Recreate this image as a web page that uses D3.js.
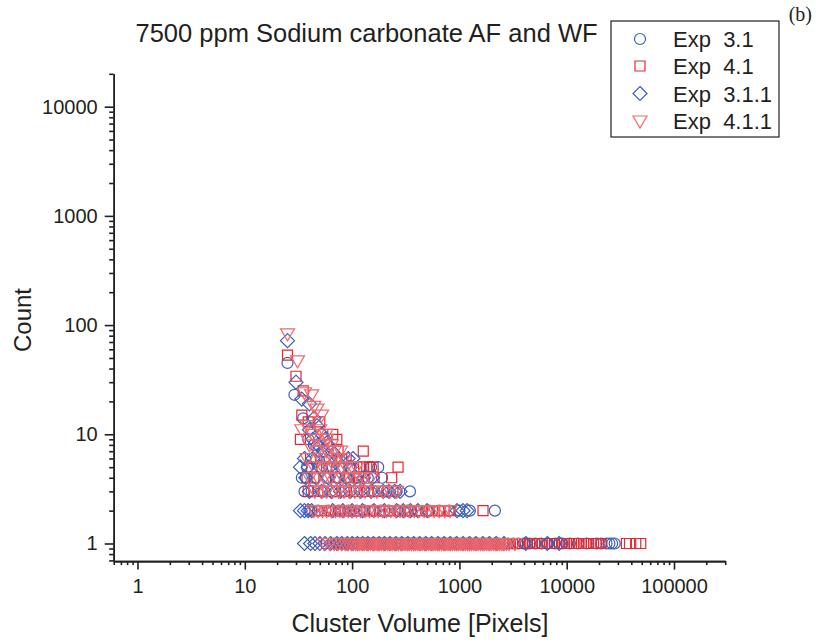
<!DOCTYPE html>
<html>
<head>
<meta charset="utf-8">
<script src="https://cdn.jsdelivr.net/npm/d3@7/dist/d3.min.js"></script>
<style>
  html, body { margin: 0; padding: 0; background: #fff; }
  svg { display: block; }
  text { font-family: "Liberation Sans", Arial, Helvetica, sans-serif; fill: #231f20; }
</style>
</head>
<body>
<svg id="chart" width="816" height="644"></svg>
<script>
// ---- data: cluster volume [pixels] vs. number of clusters with that volume ----
const seriesNames = ["Exp  3.1", "Exp  4.1", "Exp  3.1.1", "Exp  4.1.1"];

// [volume, count] pairs for counts above one
const exp31Multi = [
  [25,45],[29,23],[35,14],[39,9],[44,8],[48,7],[55,7],[46,6],[62,6],[70,6],
  [38,5],[52,5],[66,5],[80,5],[95,5],[120,5],[150,5],[175,5],
  [34,4],[37,4],[45,4],[58,4],[75,4],[90,4],[110,4],[140,4],[190,4],
  [36,3],[42,3],[55,3],[70,3],[85,3],[105,3],[130,3],[160,3],[210,3],[260,3],[346,3],
  [40,2],[48,2],[60,2],[75,2],[92,2],[110,2],[130,2],[155,2],[185,2],[220,2],[270,2],
  [330,2],[410,2],[520,2],[650,2],[800,2],[1000,2],[1250,2],[2140,2]
];
// volumes seen exactly once
const exp31Single = [
  68,75,84,92,100,104,109,113,118,123,129,134,140,147,153,161,168,176,185,194,
  203,214,225,236,249,262,276,291,307,323,341,360,381,403,426,451,478,507,538,571,
  607,646,688,733,782,835,893,956,1024,1100,1183,1275,1380,1495,1625,1770,1935,2120,
  2330,2570,2850,3170,3540,3980,4500,5100,5800,6700,7800,9100,10700,12700,15400,
  19000,21000,23500,25000,26500,28000
];

const exp41Multi = [
  [25,53],[30,34],[35,25],[34,15],[39,13],[50,13],[33,9],[66,10],[72,9],[74,7],[127,7],
  [41,6],[80,6],[88,6],
  [42,5],[58,5],[118,5],[128,5],[137,5],[145,5],[157,5],[268,5],
  [38,4],[44,4],[70,4],[95,4],[115,4],[160,4],[234,4],
  [39,3],[44,3],[48,3],[65,3],[85,3],[110,3],[140,3],[175,3],[240,3],
  [45,2],[52,2],[62,2],[70,2],[78,2],[86,2],[95,2],[105,2],[118,2],[130,2],[145,2],
  [160,2],[180,2],[200,2],[225,2],[250,2],[280,2],[310,2],[350,2],[390,2],[440,2],
  [500,2],[560,2],[640,2],[720,2],[820,2],[1660,2]
];
const exp41Single = [
  58,66,77,88,98,106,115,124,134,145,157,170,184,199,215,233,252,273,295,320,
  346,375,406,440,476,515,558,604,654,708,767,830,899,973,1050,1140,1240,1340,
  1450,1570,1700,1840,1990,2160,2340,2530,2740,2970,3130,3300,3480,3670,3870,4080,
  4300,4530,4780,5040,5310,5600,5900,6220,6560,6910,7290,7680,8100,8540,9000,9490,
  10000,10500,11100,11700,12300,13000,13700,14400,15200,16000,16900,17800,18800,
  19800,20900,36000,38500,44000,49000
];

const exp311Multi = [
  [25,72],[30,30],[34,21],[40,19],[44,14],[47,12],[40,11],[52,10],[43,9],[56,9],
  [48,8],[60,8],[54,7],[65,7],
  [36,6],[43,6],[75,6],[92,6],[102,6],
  [33,5],[39,5],[50,5],[62,5],[78,5],[96,5],
  [37,4],[46,4],[60,4],[72,4],[88,4],[106,4],[128,4],[155,4],
  [40,3],[52,3],[64,3],[78,3],[96,3],[120,3],[150,3],[195,3],[220,3],[250,3],[280,3],
  [33,2],[36,2],[39,2],[42,2],[66,2],[82,2],[100,2],[125,2],[160,2],[200,2],[260,2],
  [300,2],[350,2],[410,2],[500,2],[950,2],[1080,2],[1180,2]
];
const exp311Single = [
  36,41,45,50,56,63,72,80,90,100,112,125,140,158,178,200,225,255,290,330,375,425,
  485,550,630,720,820,940,1080,1240,1420,1650,1900,2200,2600,4160,6600,8500
];

const exp411Multi = [
  [25,83],[31,47],[36,24],[42,23],[44,18],[47,17],[52,15],[38,12],[34,11],[50,11],
  [43,10],[57,10],[46,9],[58,9],[40,8],[55,8],[64,8],[47,7],[58,7],[68,7],[78,7],
  [38,6],[50,6],[57,6],[66,6],[74,6],[84,6],
  [44,5],[53,5],[60,5],[69,5],[80,5],[88,5],[100,5],[110,5],
  [40,4],[48,4],[55,4],[63,4],[72,4],[82,4],[92,4],[104,4],[118,4],[130,4],[150,4],
  [45,3],[52,3],[58,3],[66,3],[75,3],[84,3],[94,3],[106,3],[118,3],[132,3],[150,3],
  [170,3],[195,3],[225,3],[260,3],
  [44,2],[48,2],[53,2],[58,2],[64,2],[70,2],[77,2],[84,2],[92,2],[100,2],[110,2],
  [120,2],[132,2],[145,2],[160,2],[175,2],[192,2],[210,2],[230,2],[255,2],[280,2],
  [310,2],[340,2],[380,2],[420,2],[470,2],[520,2],[580,2],[650,2],[730,2],[820,2]
];
const exp411Single = [
  55,62,68,74,80,86,92,98,103,108,113,118,124,130,136,142,149,156,163,171,179,187,
  196,205,215,225,236,247,259,271,284,297,311,326,341,357,374,392,410,430,450,471,
  494,517,541,567,594,622,651,682,714,748,783,820,859,900,942,987,1034,1083,1134,
  1188,1244,1303,1365,1430,1498,1569,1643,1721,1803,1888,1978,2072,2170,2273,2380,
  2490,2600,2750,2900,3300
];

// axis ticks
const xMajor = [1, 10, 100, 1000, 10000, 100000];
const yMajor = [1, 10, 100, 1000, 10000];

// ---- layout ----
const svg = d3.select("#chart");
svg.append("rect").attr("width", 816).attr("height", 644).attr("fill", "#fff");

const x = d3.scaleLog().domain([0.6, 3e5]).range([113.7, 725.2]);
const y = d3.scaleLog().domain([0.69, 2e4]).range([561.1, 73.8]);

function minorTicks(scale) {
  const [lo, hi] = scale.domain();
  const out = [];
  for (let e = -1; e <= 6; e++) {
    for (let m = 2; m <= 9; m++) {
      const v = m * Math.pow(10, e);
      if (v >= lo * 0.999 && v <= hi * 1.001) out.push(v);
    }
  }
  return out;
}

// open marker shapes
const r = 5.5;
const shapes = {
  circle: `M${r},0A${r},${r} 0 1,1 ${-r},0A${r},${r} 0 1,1 ${r},0Z`,
  square: "M-5,-5H5V5H-5Z",
  diamond: "M0,-7L7,0L0,7L-7,0Z",
  triangle: "M-7,-5L7,-5L0,7Z"
};

const series = [
  { name: seriesNames[0], multi: exp31Multi,  single: exp31Single,  shape: "circle",   color: "#3d5fbb" },
  { name: seriesNames[1], multi: exp41Multi,  single: exp41Single,  shape: "square",   color: "#e8262d" },
  { name: seriesNames[2], multi: exp311Multi, single: exp311Single, shape: "diamond",  color: "#3d5fbb" },
  { name: seriesNames[3], multi: exp411Multi, single: exp411Single, shape: "triangle", color: "#f0686c" }
];

// ---- markers ----
const plot = svg.append("g");
series.forEach(s => {
  const pts = s.multi.map(d => ({ v: d[0], n: d[1] }))
    .concat(s.single.map(v => ({ v, n: 1 })));
  plot.append("g").selectAll("path").data(pts).join("path")
    .attr("d", shapes[s.shape])
    .attr("transform", d => `translate(${x(d.v)},${y(d.n)})`)
    .attr("fill", "none")
    .attr("stroke", s.color)
    .attr("stroke-width", 1.2);
});

// ---- axes ----
const axisStyle = g => {
  g.selectAll("path.domain").attr("stroke", "#231f20").attr("stroke-width", 1.6);
  g.selectAll(".tick line").attr("stroke", "#231f20").attr("stroke-width", 1.6);
  g.selectAll("text").attr("font-size", 20).attr("fill", "#231f20")
    .attr("font-family", "'Liberation Sans', Arial, sans-serif");
};

svg.append("g").attr("transform", `translate(0,${y.range()[0]})`)
  .call(d3.axisBottom(x).tickValues(minorTicks(x)).tickSize(4).tickSizeOuter(0).tickFormat(""))
  .call(axisStyle);
svg.append("g").attr("transform", `translate(0,${y.range()[0]})`)
  .call(d3.axisBottom(x).tickValues(xMajor).tickSize(8.5).tickSizeOuter(0).tickPadding(9).tickFormat(d3.format("d")))
  .call(axisStyle);

svg.append("g").attr("transform", `translate(${x.range()[0]},0)`)
  .call(d3.axisLeft(y).tickValues(minorTicks(y)).tickSize(4.5).tickSizeOuter(0).tickFormat(""))
  .call(axisStyle);
svg.append("g").attr("transform", `translate(${x.range()[0]},0)`)
  .call(d3.axisLeft(y).tickValues(yMajor).tickSize(9).tickSizeOuter(0).tickPadding(7).tickFormat(d3.format("d")))
  .call(axisStyle);

// ---- titles ----
svg.append("text").attr("x", 366.5).attr("y", 42).attr("text-anchor", "middle")
  .attr("font-size", 25.5).text("7500 ppm Sodium carbonate AF and WF");

svg.append("text").attr("x", 420).attr("y", 632).attr("text-anchor", "middle")
  .attr("font-size", 25).text("Cluster Volume [Pixels]");

svg.append("text").attr("transform", "translate(31,320) rotate(-90)")
  .attr("text-anchor", "middle").attr("font-size", 24).text("Count");

svg.append("text").attr("x", 812).attr("y", 21).attr("text-anchor", "end")
  .attr("font-size", 20).style("font-family", "'Liberation Serif', 'Times New Roman', serif")
  .text("(b)");

// ---- legend ----
const legend = svg.append("g");
legend.append("rect").attr("x", 611).attr("y", 21).attr("width", 168).attr("height", 116)
  .attr("fill", "#fff").attr("stroke", "#231f20").attr("stroke-width", 1.2);
const rowY = [39, 66, 93.5, 121];
series.forEach((s, i) => {
  legend.append("path").attr("d", shapes[s.shape])
    .attr("transform", `translate(640,${rowY[i]})`)
    .attr("fill", "none").attr("stroke", s.color).attr("stroke-width", 1.2);
  legend.append("text").attr("x", 673).attr("y", rowY[i] + 8)
    .attr("font-size", 22).style("white-space", "pre").text(s.name);
});
</script>
</body>
</html>
